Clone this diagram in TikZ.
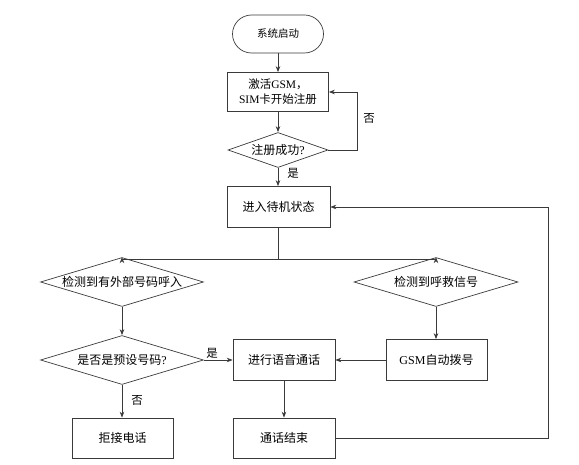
\documentclass[tikz,border=0pt]{standalone}
\usepackage{fontspec}
\setmainfont{Liberation Serif}
\newfontfamily\cjk{Noto Sans CJK SC}
\usetikzlibrary{shapes.geometric,arrows.meta}
\definecolor{ln}{HTML}{3A3A3A}
\tikzset{
  base/.style={draw=ln, line width=0.7pt, font=\fontsize{12}{14}\selectfont, text=black},
  box/.style={base, rectangle, minimum width=102pt, minimum height=40pt, inner sep=1pt, align=center},
  term/.style={base, rectangle, rounded corners=19pt, minimum width=91pt, minimum height=38pt, font=\fontsize{10.5}{13}\selectfont},
  dec/.style={base, diamond, inner sep=0pt, shape aspect=3},
  arr/.style={draw=ln, line width=0.7pt, -{Stealth[length=6pt,width=4.5pt]}},
  lbl/.style={font=\fontsize{11.5}{13}\selectfont, inner sep=1pt},
}
\newcommand{\zw}[1]{\makebox[0pt]{#1}}
\begin{document}
\begin{tikzpicture}[x=1pt,y=-1pt]
\useasboundingbox (0,0) rectangle (579,465);
\node[term] (start) at (278,34) {\cjk 系统启动};
\node[box, minimum width=101pt, minimum height=39pt, font=\fontsize{11.5}{15}\selectfont] (reg) at (278,92) {{\cjk 激活}GSM{\cjk ，}\\SIM{\cjk 卡开始注册}};
\node[dec, minimum width=100pt, minimum height=35pt] (ok) at (278,150) {\zw{{\cjk 注册成功}?}};
\node[box, minimum width=103pt, minimum height=41pt] (standby) at (278.5,207) {\cjk 进入待机状态};
\node[dec, minimum width=163pt, minimum height=49pt] (ext) at (122,282) {\zw{\cjk 检测到有外部号码呼入}};
\node[dec, minimum width=164pt, minimum height=49pt] (sos) at (436,282) {\zw{\cjk 检测到呼救信号}};
\node[dec, minimum width=163pt, minimum height=49pt] (preset) at (122,360) {\zw{{\cjk 是否是预设号码}?}};
\node[box, minimum height=41pt] (call) at (284,360) {\cjk 进行语音通话};
\node[box, minimum width=101pt, minimum height=41pt] (gsm) at (436.5,360) {GSM{\cjk 自动拨号}};
\node[box, minimum width=101pt] (reject) at (122.5,438) {\cjk 拒接电话};
\node[box] (end) at (284,438) {\cjk 通话结束};

\draw[arr] (start) -- (reg);
\draw[arr] (reg) -- (ok);
\draw[arr] (ok.east) -- ++(29,0) coordinate (c1) |- (reg.east);
\node[lbl] (no1) at (369,118) {\cjk 否};
\draw[arr] (ok.south) -- (ok.south |- standby.north);
\node[lbl] (yes1) at (293,173) {\cjk 是};
\draw[line width=0.7pt, draw=ln] (standby.south -| ok.south) -- ++(0,32) coordinate (j);
\draw[arr] (j) -| (ext.north);
\draw[arr] (j) -| (sos.north);
\draw[arr] (ext.south) -- (preset.north);
\draw[arr] (sos.south) -- (sos.south |- gsm.north);
\draw[arr] (gsm.west) -- (call.east);
\draw[arr] (preset.east) -- (call.west);
\node[lbl] (yes2) at (212,353) {\cjk 是};
\draw[arr] (preset.south) -- (preset.south |- reject.north);
\node[lbl] (no2) at (137,400) {\cjk 否};
\draw[arr] (call.south) -- (end.north);
\draw[arr] (end.east) -- (548,438) coordinate (c2) |- (standby.east);
\end{tikzpicture}
\end{document}
